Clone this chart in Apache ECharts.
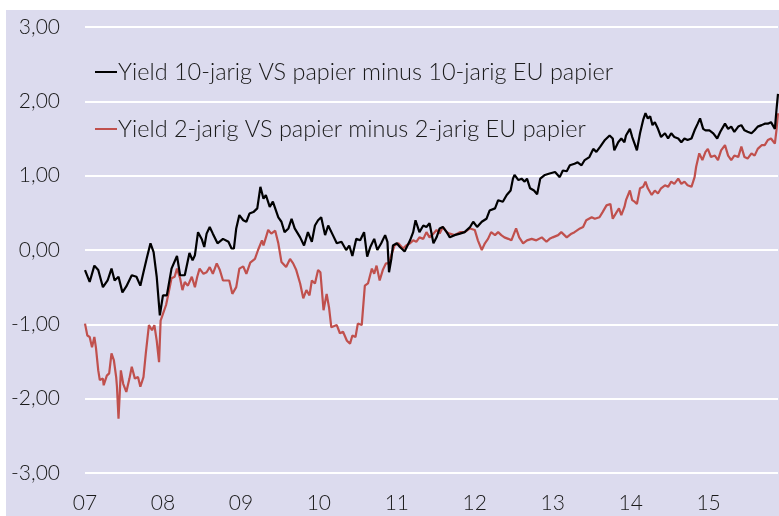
<!DOCTYPE html>
<html>
<head>
<meta charset="utf-8">
<script src="https://cdn.jsdelivr.net/npm/echarts@6/dist/echarts.min.js"></script>
<style>html,body{margin:0;padding:0;background:#fff}#c{width:779px;height:516px}</style>
</head>
<body>
<div id="c"></div>
<script>
const seriesNames = ["Yield 10-jarig VS papier minus 10-jarig EU papier", "Yield 2-jarig VS papier minus 2-jarig EU papier"];
const xTickYears = [2007, 2008, 2009, 2010, 2011, 2012, 2013, 2014, 2015];

// 10-jarig spread: decimal year / value
const t10 = [2007.00,2007.06,2007.12,2007.17,2007.23,2007.29,2007.34,2007.38,2007.43,2007.48,2007.53,2007.60,2007.66,2007.71,2007.75,2007.79,2007.84,2007.88,2007.92,2007.96,
2008.00,2008.05,2008.11,2008.18,2008.22,2008.28,2008.34,2008.38,2008.41,2008.45,2008.50,2008.53,2008.56,2008.60,2008.64,2008.70,2008.77,2008.84,2008.88,2008.91,2008.94,2008.98,
2009.03,2009.07,2009.11,2009.16,2009.21,2009.25,2009.29,2009.32,2009.37,2009.41,2009.48,2009.52,2009.56,2009.61,2009.65,2009.69,2009.76,2009.81,2009.86,2009.91,2009.95,2009.99,
2010.03,2010.08,2010.12,2010.18,2010.23,2010.29,2010.35,2010.39,2010.43,2010.48,2010.53,2010.58,2010.62,2010.66,2010.71,2010.75,2010.80,2010.85,2010.88,2010.90,2010.93,2010.95,
2011.00,2011.04,2011.10,2011.17,2011.21,2011.24,2011.29,2011.34,2011.38,2011.42,2011.47,2011.51,2011.55,2011.59,2011.64,2011.68,2011.74,2011.81,2011.87,2011.94,2011.98,
2012.03,2012.09,2012.15,2012.19,2012.26,2012.30,2012.36,2012.41,2012.46,2012.49,2012.51,2012.56,2012.60,2012.64,2012.67,2012.71,2012.76,2012.80,2012.84,2012.90,2012.96,
2013.03,2013.09,2013.13,2013.18,2013.22,2013.28,2013.32,2013.37,2013.41,2013.47,2013.52,2013.56,2013.61,2013.67,2013.73,2013.77,2013.79,2013.84,2013.88,2013.92,2013.94,2013.99,
2014.02,2014.05,2014.08,2014.12,2014.16,2014.19,2014.22,2014.25,2014.28,2014.31,2014.35,2014.39,2014.44,2014.48,2014.52,2014.56,2014.61,2014.65,2014.69,2014.73,2014.78,2014.82,2014.86,2014.89,2014.93,2014.96,
2015.01,2015.06,2015.11,2015.15,2015.21,2015.25,2015.29,2015.33,2015.38,2015.42,2015.46,2015.50,2015.55,2015.59,2015.63,2015.68,2015.72,2015.76,2015.80,2015.85,2015.87,2015.89];
const y10 = [-0.27,-0.43,-0.21,-0.27,-0.50,-0.41,-0.25,-0.41,-0.36,-0.57,-0.49,-0.34,-0.36,-0.48,-0.30,-0.12,0.09,-0.03,-0.36,-0.88,
-0.61,-0.61,-0.25,-0.08,-0.34,-0.34,-0.04,-0.14,-0.07,0.24,0.14,0.04,0.22,0.31,0.22,0.09,0.15,0.11,0.02,0.02,0.29,0.47,
0.40,0.38,0.49,0.51,0.56,0.85,0.69,0.74,0.58,0.65,0.44,0.38,0.24,0.29,0.42,0.29,0.17,0.06,0.24,0.11,0.33,0.40,
0.44,0.20,0.33,0.20,0.09,0.11,0.00,0.06,-0.08,0.15,0.13,0.24,-0.09,0.04,0.15,0.00,0.09,0.20,0.11,-0.30,-0.12,0.06,
0.09,0.04,-0.02,0.13,0.24,0.40,0.24,0.33,0.31,0.36,0.09,0.17,0.29,0.31,0.24,0.17,0.20,0.22,0.24,0.31,0.38,
0.31,0.38,0.42,0.53,0.56,0.67,0.65,0.74,0.80,0.96,1.01,0.94,0.96,0.92,0.96,0.83,0.80,0.75,0.96,1.01,1.03,
1.05,0.98,1.07,1.06,1.14,1.16,1.18,1.14,1.21,1.25,1.36,1.32,1.39,1.48,1.54,1.50,1.34,1.45,1.50,1.45,1.54,1.63,
1.52,1.43,1.34,1.57,1.75,1.84,1.77,1.80,1.68,1.72,1.63,1.52,1.57,1.50,1.57,1.52,1.50,1.45,1.50,1.48,1.50,1.61,1.70,1.77,1.63,1.61,
1.61,1.57,1.50,1.59,1.70,1.63,1.66,1.59,1.66,1.68,1.61,1.59,1.57,1.61,1.66,1.68,1.70,1.70,1.72,1.63,1.88,2.10];

// 2-jarig spread: decimal year / value
const t2 = [2007.00,2007.03,2007.06,2007.09,2007.12,2007.14,2007.17,2007.19,2007.23,2007.24,2007.28,2007.31,2007.34,2007.37,2007.40,2007.41,2007.43,2007.46,2007.49,2007.53,2007.57,2007.60,2007.64,2007.68,2007.71,2007.75,2007.78,2007.82,2007.86,2007.89,2007.92,2007.95,2007.97,
2008.00,2008.04,2008.07,2008.11,2008.15,2008.18,2008.22,2008.25,2008.28,2008.32,2008.37,2008.41,2008.44,2008.47,2008.52,2008.56,2008.60,2008.64,2008.69,2008.73,2008.77,2008.82,2008.85,2008.89,2008.94,2008.98,
2009.03,2009.07,2009.12,2009.18,2009.22,2009.27,2009.29,2009.35,2009.39,2009.44,2009.48,2009.52,2009.58,2009.63,2009.67,2009.71,2009.76,2009.80,2009.84,2009.88,2009.91,2009.95,2009.99,
2010.02,2010.06,2010.10,2010.13,2010.16,2010.23,2010.27,2010.31,2010.36,2010.40,2010.43,2010.47,2010.50,2010.55,2010.59,2010.63,2010.68,2010.71,2010.74,2010.78,2010.82,2010.86,2010.90,2010.93,2010.97,
2011.02,2011.08,2011.12,2011.17,2011.21,2011.25,2011.29,2011.34,2011.38,2011.42,2011.47,2011.51,2011.55,2011.59,2011.64,2011.68,2011.74,2011.81,2011.87,2011.94,
2012.00,2012.04,2012.09,2012.13,2012.17,2012.21,2012.26,2012.30,2012.34,2012.38,2012.43,2012.47,2012.53,2012.57,2012.62,2012.67,2012.73,2012.79,2012.86,2012.92,2012.96,
2013.00,2013.07,2013.11,2013.18,2013.24,2013.28,2013.35,2013.39,2013.43,2013.50,2013.54,2013.60,2013.64,2013.69,2013.74,2013.77,2013.82,2013.85,2013.88,2013.92,2013.94,2013.99,
2014.02,2014.05,2014.08,2014.12,2014.16,2014.19,2014.22,2014.27,2014.31,2014.35,2014.39,2014.44,2014.48,2014.52,2014.56,2014.61,2014.65,2014.69,2014.73,2014.78,2014.82,2014.84,2014.88,2014.92,2014.96,2014.99,
2015.03,2015.08,2015.12,2015.16,2015.21,2015.25,2015.29,2015.33,2015.38,2015.42,2015.46,2015.50,2015.55,2015.59,2015.63,2015.68,2015.72,2015.76,2015.80,2015.85,2015.87,2015.89];
const y2 = [-0.99,-1.15,-1.17,-1.31,-1.17,-1.31,-1.62,-1.75,-1.73,-1.82,-1.69,-1.66,-1.39,-1.48,-1.71,-1.84,-2.27,-1.62,-1.80,-1.91,-1.73,-1.57,-1.73,-1.71,-1.84,-1.71,-1.39,-1.01,-1.08,-1.01,-1.22,-1.51,-0.95,
-0.86,-0.74,-0.59,-0.38,-0.36,-0.25,-0.38,-0.54,-0.43,-0.48,-0.36,-0.50,-0.36,-0.25,-0.32,-0.30,-0.23,-0.32,-0.18,-0.27,-0.41,-0.41,-0.41,-0.59,-0.50,-0.25,
-0.22,-0.32,-0.17,-0.12,0.00,0.13,0.06,0.27,0.22,0.26,0.09,-0.16,-0.23,-0.12,-0.18,-0.27,-0.45,-0.65,-0.54,-0.61,-0.41,-0.45,-0.27,
-0.30,-0.81,-0.59,-0.77,-1.04,-1.01,-1.12,-1.10,-1.22,-1.26,-1.15,-1.17,-0.99,-1.01,-0.48,-0.45,-0.25,-0.32,-0.21,-0.41,-0.27,-0.18,-0.18,-0.07,0.06,
0.09,0.02,0.06,0.09,0.13,0.11,0.17,0.15,0.24,0.17,0.22,0.27,0.22,0.31,0.24,0.22,0.20,0.24,0.24,0.29,
0.27,0.13,0.00,0.09,0.15,0.24,0.20,0.24,0.20,0.17,0.15,0.13,0.29,0.17,0.09,0.13,0.15,0.13,0.17,0.11,0.15,
0.17,0.20,0.24,0.17,0.22,0.24,0.29,0.31,0.40,0.44,0.42,0.44,0.51,0.60,0.62,0.42,0.51,0.56,0.47,0.58,0.67,0.80,
0.67,0.65,0.62,0.83,0.85,0.92,0.83,0.74,0.80,0.76,0.83,0.87,0.85,0.92,0.89,0.96,0.89,0.92,0.87,0.85,0.98,1.12,1.30,1.21,1.32,1.36,
1.25,1.27,1.21,1.34,1.41,1.27,1.21,1.27,1.25,1.39,1.25,1.23,1.30,1.27,1.36,1.41,1.41,1.48,1.50,1.43,1.61,1.84];

const FONT = 'Lato';
const chart = echarts.init(document.getElementById('c'), null, {renderer: 'canvas'});
chart.setOption({
  backgroundColor: '#ffffff',
  animation: false,
  graphic: [{
    type: 'rect', left: 6, top: 10, z: -10, silent: true,
    shape: {width: 773, height: 506},
    style: {fill: '#dcdbee'}
  }],
  grid: {left: 85, right: 1, top: 27, bottom: 43, containLabel: false},
  legend: {
    orient: 'vertical', left: 95, top: 59, padding: 0,
    itemWidth: 22, itemHeight: 2, itemGap: 31, icon: 'rect',
    textStyle: {fontFamily: FONT, fontSize: 23.5, fontWeight: 300, color: '#1a1a1a', lineHeight: 26, padding: [0,0,0,-4]},
    data: seriesNames
  },
  xAxis: {
    type: 'value', min: xTickYears[0], max: 2015.89, interval: 1,
    axisLine: {show: false}, axisTick: {show: false}, splitLine: {show: false},
    axisLabel: {
      showMaxLabel: false, margin: 20,
      fontFamily: FONT, fontSize: 21, fontWeight: 300, color: '#1a1a1a',
      formatter: v => xTickYears.indexOf(Math.round(v)) >= 0 && Math.abs(v - Math.round(v)) < 1e-6 ? String(Math.round(v)).slice(2) : ''
    }
  },
  yAxis: {
    type: 'value', min: -3, max: 3, interval: 1,
    axisLine: {show: false}, axisTick: {show: false},
    splitLine: {show: true, lineStyle: {color: '#ffffff', width: 2}},
    axisLabel: {
      margin: 25, fontFamily: FONT, fontSize: 21, fontWeight: 300, color: '#1a1a1a',
      formatter: v => v.toFixed(2).replace('.', ',')
    }
  },
  series: [
    {name: seriesNames[0], type: 'line', symbol: 'none', z: 4,
     lineStyle: {color: '#000000', width: 2.2}, itemStyle: {color: '#000000'},
     data: t10.map((t, i) => [t, y10[i]])},
    {name: seriesNames[1], type: 'line', symbol: 'none', z: 3,
     lineStyle: {color: '#c0504d', width: 2.2}, itemStyle: {color: '#c0504d'},
     data: t2.map((t, i) => [t, y2[i]])}
  ]
});
</script>
</body>
</html>
